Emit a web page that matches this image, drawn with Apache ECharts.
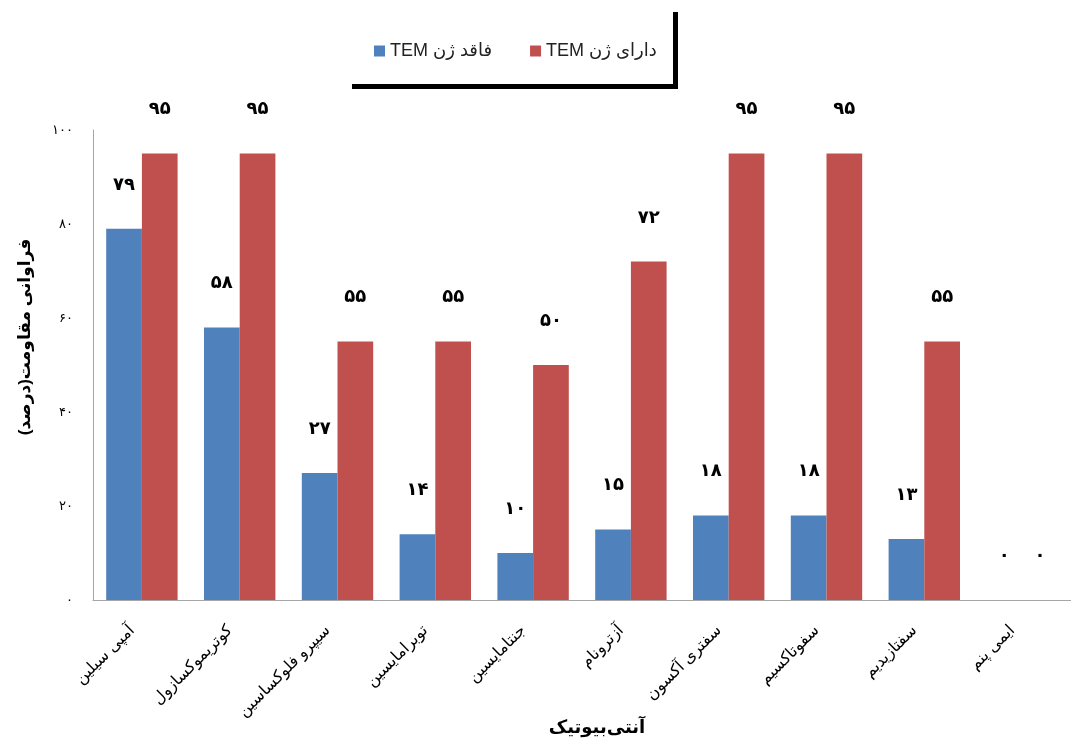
<!DOCTYPE html>
<html>
<head>
<meta charset="utf-8">
<script src="https://cdn.jsdelivr.net/npm/echarts@6/dist/echarts.min.js"></script>
<style>html,body{margin:0;padding:0;background:#fff}#c{width:1071px;height:741px}</style>
</head>
<body>
<div id="c"></div>
<script>
const categories = ['آمپی سیلین','کوتریموکسازول','سیپرو فلوکساسین','توبرامایسین','جنتامایسین','آزترونام','سفتری آکسون','سفوتاکسیم','سفتازیدیم','ایمی پنم'];
const seriesNames = ['فاقد ژن TEM','دارای ژن TEM'];
const withoutTEM = [79,58,27,14,10,15,18,18,13,0];
const withTEM = [95,95,55,55,50,72,95,95,55,0];
const yTicks = [0,20,40,60,80,100];
const yTitle = 'فراوانی مقاومت(درصد)';
const xTitle = 'آنتی‌بیوتیک';

const FONT = "'Liberation Sans','DejaVu Sans',sans-serif";
const fa = n => String(n).replace(/\d/g, d => '۰۱۲۳۴۵۶۷۸۹'[d]);
const rtl = s => '\u202B' + s + '\u202C';

const chart = echarts.init(document.getElementById('c'));
const labelCfg = {
  show: true, position: 'top', distance: 35,
  fontSize: 18, fontWeight: 'bold', color: '#000', fontFamily: FONT,
  formatter: p => fa(p.value)
};
chart.setOption({
  animation: false,
  backgroundColor: '#fff',
  textStyle: { fontFamily: FONT },
  graphic: [
    { type: 'rect', shape: { x: 673, y: 12, width: 5, height: 77 }, style: { fill: '#000' } },
    { type: 'rect', shape: { x: 352, y: 84, width: 326, height: 5 }, style: { fill: '#000' } }
  ],
  legend: {
    data: seriesNames,
    left: 369, top: 37,
    itemWidth: 11, itemHeight: 11, itemGap: 38,
    icon: 'rect',
    textStyle: { fontSize: 18, color: '#222', fontFamily: FONT },
    formatter: n => rtl(n)
  },
  grid: { left: 93, right: 0, top: 130, bottom: 141, outerBoundsMode: 'none', containLabel: false },
  xAxis: {
    type: 'category', data: categories,
    name: rtl(xTitle), nameLocation: 'middle', nameGap: 119, nameMoveOverlap: false,
    nameTextStyle: { fontSize: 18, fontWeight: 'bold', color: '#000', fontFamily: FONT, padding: [0, 0, 0, 30] },
    axisLine: { lineStyle: { color: '#a6a6a6', width: 1 } },
    axisTick: { show: false },
    axisLabel: { interval: 0, rotate: 45, fontSize: 16, color: '#000', margin: 18, padding: [0, 14, 0, 0], fontFamily: FONT }
  },
  yAxis: {
    type: 'value', min: 0, max: 100, interval: 20,
    name: rtl(yTitle), nameLocation: 'middle', nameGap: 59, nameMoveOverlap: false,
    nameTextStyle: { fontSize: 17, fontWeight: 'bold', color: '#000', fontFamily: FONT, padding: [0, 0, 0, 56] },
    axisLine: { show: true, lineStyle: { color: '#a6a6a6', width: 1 } },
    axisTick: { show: false },
    splitLine: { show: false },
    axisLabel: { fontSize: 13, color: '#000', margin: 20, fontFamily: FONT,
      formatter: v => yTicks.includes(v) ? fa(v) : '' }
  },
  series: [
    { name: seriesNames[0], type: 'bar', data: withoutTEM, barGap: '0%', barCategoryGap: '27%',
      itemStyle: { color: '#4F81BD' }, label: labelCfg },
    { name: seriesNames[1], type: 'bar', data: withTEM, barGap: '0%', barCategoryGap: '27%',
      itemStyle: { color: '#C0504D' }, label: labelCfg }
  ]
});
</script>
</body>
</html>
